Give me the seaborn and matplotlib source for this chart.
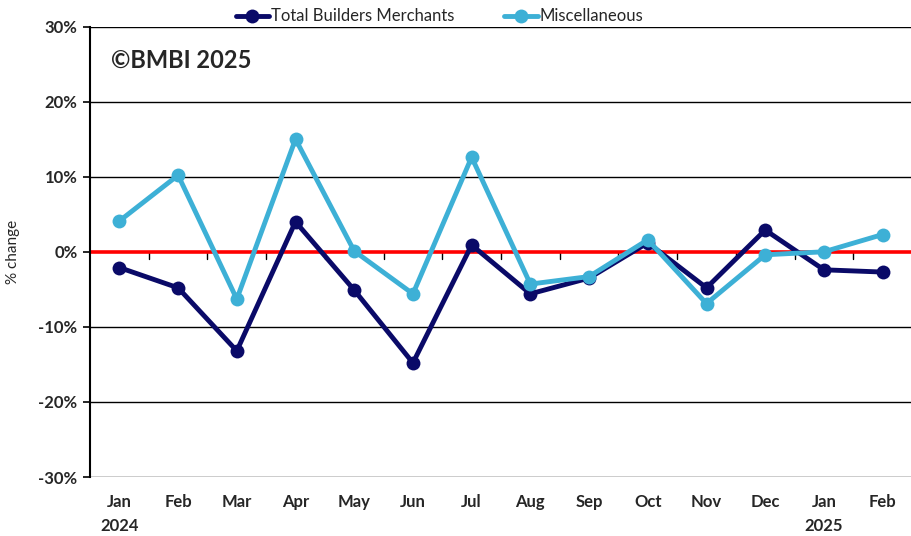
import matplotlib
matplotlib.use("Agg")
import matplotlib.pyplot as plt
import seaborn as sns
import pandas as pd
import numpy as np

months = ["Jan\n2024", "Feb", "Mar", "Apr", "May", "Jun", "Jul", "Aug", "Sep",
          "Oct", "Nov", "Dec", "Jan\n2025", "Feb"]
total_bm = [-2.1, -4.8, -13.2, 4.0, -5.1, -14.8, 0.9, -5.6, -3.5, 1.2, -4.8, 2.9, -2.4, -2.7]
misc = [4.1, 10.2, -6.3, 15.0, 0.1, -5.6, 12.6, -4.3, -3.3, 1.6, -6.9, -0.4, 0.0, 2.3]
y_ticks = [-30, -20, -10, 0, 10, 20, 30]

sns.set_theme(style="white")
plt.rcParams["font.family"] = ["Lato", "DejaVu Sans"]

fig = plt.figure(figsize=(9.12, 5.36), dpi=100)
ax = fig.add_axes([0.0987, 0.110, 0.9013, 0.8405])

x = np.arange(len(months))
df = pd.DataFrame({"x": np.concatenate([x, x]),
                   "v": total_bm + misc,
                   "s": ["Total Builders Merchants"] * len(x) + ["Miscellaneous"] * len(x)})

for yt in y_ticks:
    if yt != 0:
        ax.axhline(yt, color="black", lw=1.0, zorder=1)

ax.axhline(0, color="#FF0000", lw=2.6, zorder=2)
# category boundary tick marks on zero line
for b in x[:-1] + 0.5:
    ax.plot([b, b], [0, -0.9], color="black", lw=1.0, zorder=1.5)

palette = {"Total Builders Merchants": "#0A0A68", "Miscellaneous": "#3DB0D6"}
sns.lineplot(data=df, x="x", y="v", hue="s", palette=palette, marker="o",
             markersize=10, markeredgewidth=0, linewidth=3.5, ax=ax, zorder=3,
             hue_order=["Total Builders Merchants", "Miscellaneous"])

ax.set_xlim(-0.5, len(months) - 0.5)
ax.set_ylim(-30, 30)
ax.set_yticks(y_ticks)
ax.set_yticklabels([f"{v}%" for v in y_ticks], fontsize=12, fontweight="bold")
ax.set_xticks(x)
ax.set_xticklabels(months, fontsize=12, fontweight="bold", linespacing=1.6)
ax.tick_params(axis="x", length=0, pad=12)
ax.tick_params(axis="y", length=5, width=1.2, color="black", direction="out", left=True, pad=4)
ax.set_xlabel("")
ax.set_ylabel("% change", fontsize=11)
ax.yaxis.set_label_coords(-0.085, 0.5)
for side in ["top", "right", "bottom"]:
    ax.spines[side].set_visible(False)
ax.spines["left"].set_color("black")
ax.spines["left"].set_linewidth(1.5)

ax.text(0.025, 0.925, "\u00a9BMBI 2025", transform=ax.transAxes, fontsize=17,
        fontweight="bold", va="center", ha="left")

leg = ax.legend(loc="lower center", bbox_to_anchor=(0.425, 0.99), ncol=2, frameon=False,
                fontsize=12, handlelength=2.0, handletextpad=0.1, columnspacing=3.0,
                borderaxespad=0)
ax.get_legend().set_title(None)

fig.savefig("out.png", dpi=100)
